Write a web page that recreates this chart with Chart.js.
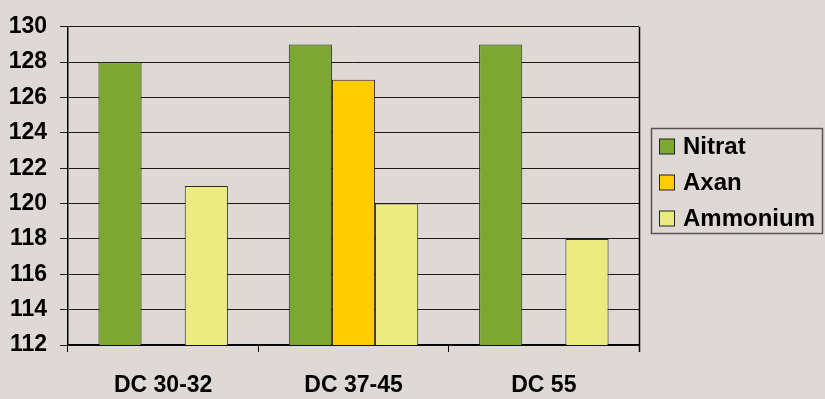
<!DOCTYPE html>
<html>
<head>
<meta charset="utf-8">
<script src="https://cdn.jsdelivr.net/npm/chart.js@4"></script>
<style>
  html, body { margin: 0; padding: 0; background: #dfd9d5; }
  #wrap { width: 825px; height: 399px; }
</style>
</head>
<body>
<div id="wrap"><canvas id="barChart" width="825" height="399"></canvas></div>
<script>
//Data
const categories = ['DC 30-32', 'DC 37-45', 'DC 55'];
const nitrat = [128, 129, 129];
const axan = [null, 127, null];
const ammonium = [121, 120, 118];
const yTicks = [112, 114, 116, 118, 120, 122, 124, 126, 128, 130];

const FONT = 'Arial, "Liberation Sans", sans-serif';

//Legend with a box round it, drawn on the right side
const boxLegend = {
  id: 'boxLegend',
  afterDraw(chart) {
    const ctx = chart.ctx;
    const area = chart.chartArea;
    ctx.save();
    // right border of the plot
    ctx.strokeStyle = '#000';
    ctx.lineWidth = 1.5;
    ctx.beginPath();
    ctx.moveTo(area.right + 0.5, area.top);
    ctx.lineTo(area.right + 0.5, area.bottom + 7);
    ctx.stroke();

    // legend frame
    ctx.strokeStyle = '#555';
    ctx.lineWidth = 1.5;
    ctx.strokeRect(651.5, 128.5, 171, 105);

    ctx.font = 'bold 24px ' + FONT;
    ctx.textBaseline = 'middle';
    ctx.textAlign = 'left';
    chart.data.datasets.forEach(function(ds, i) {
      const y = 146.5 + i * 36;
      ctx.fillStyle = ds.backgroundColor;
      ctx.fillRect(659.5, y - 7.5, 15, 15);
      ctx.strokeStyle = '#222';
      ctx.lineWidth = 1;
      ctx.strokeRect(659.5, y - 7.5, 15, 15);
      ctx.fillStyle = '#000';
      ctx.fillText(ds.label, 683, y + 1);
    });
    ctx.restore();
  }
};

const config = {
  type: 'bar',
  data: {
    labels: categories,
    datasets: [
      { label: 'Nitrat', data: nitrat, backgroundColor: '#7ca832' },
      { label: 'Axan', data: axan, backgroundColor: '#ffcc00' },
      { label: 'Ammonium', data: ammonium, backgroundColor: '#ebeb80' }
    ]
  },
  options: {
    responsive: false,
    animation: false,
    layout: { padding: { top: 16, right: 186, left: 0, bottom: 0 } },
    datasets: {
      bar: {
        borderColor: '#2a2a2a',
        borderWidth: 1,
        borderSkipped: false,
        categoryPercentage: 0.68,
        barPercentage: 1
      }
    },
    scales: {
      x: {
        grid: { offset: true, drawOnChartArea: false, color: '#000', tickLength: 7, lineWidth: 1 },
        border: { color: '#000', width: 1.5 },
        ticks: { color: '#000', font: { family: FONT, size: 23, weight: 'bold' }, padding: 20 },
        afterFit: function(scale) { scale.height = 54; }
      },
      y: {
        min: 112,
        max: 130,
        afterBuildTicks: function(scale) { scale.ticks = yTicks.map(v => ({ value: v })); },
        grid: { color: '#1a1a1a', tickLength: 8, lineWidth: 1 },
        border: { color: '#000', width: 1.5 },
        ticks: { color: '#000', font: { family: FONT, size: 23, weight: 'bold' }, padding: 13 },
        afterFit: function(scale) { scale.width = 68; }
      }
    },
    plugins: {
      legend: { display: false },
      tooltip: { enabled: false }
    }
  },
  plugins: [boxLegend]
};

//Create bar chart
var chart = new Chart(document.getElementById('barChart'), config);
</script>
</body>
</html>
